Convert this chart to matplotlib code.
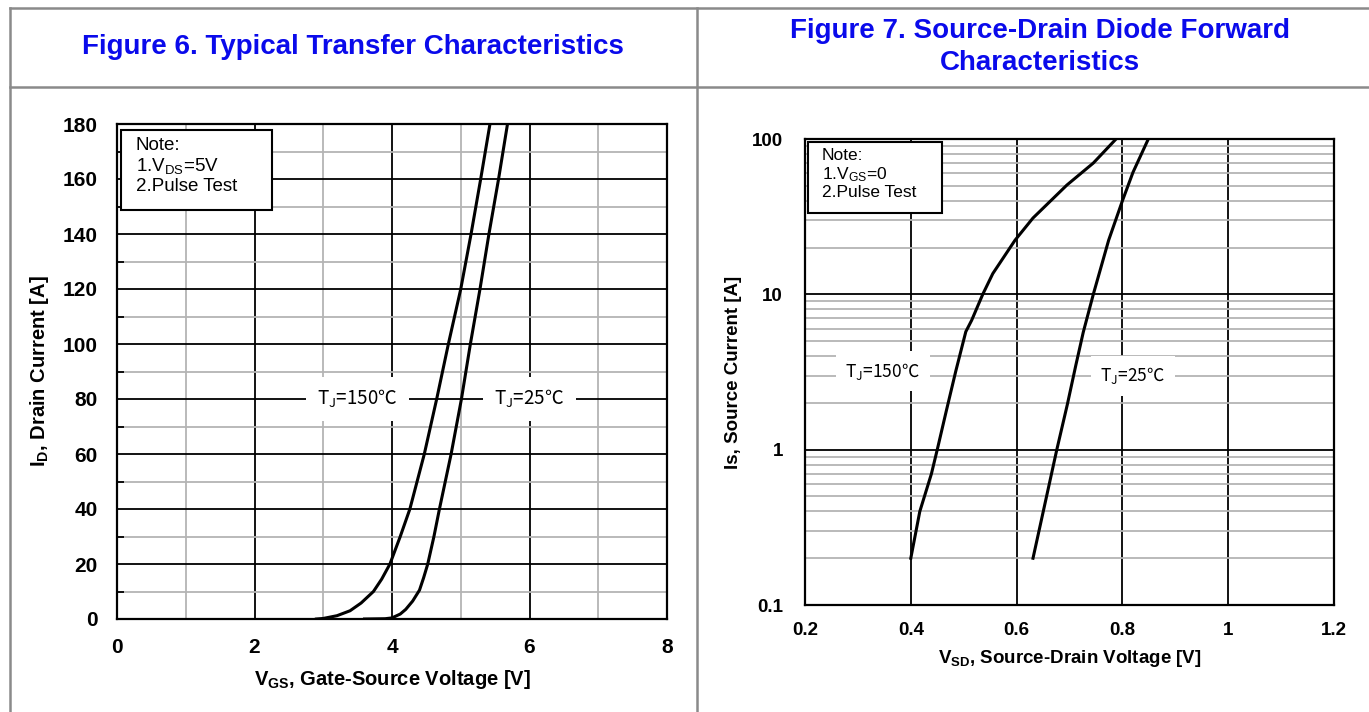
import matplotlib
matplotlib.use("Agg")
import matplotlib.pyplot as plt
from matplotlib.lines import Line2D
from matplotlib.patches import Rectangle
from matplotlib.ticker import MultipleLocator, LogLocator, NullFormatter, FixedLocator

plt.rcParams['font.family'] = ['Liberation Sans', 'DejaVu Sans']
plt.rcParams['mathtext.default'] = 'regular'

# Figure 6 - transfer characteristics
vgs_150 = [2.9, 3.0, 3.2, 3.39, 3.55, 3.73, 3.85, 3.97, 4.12, 4.26, 4.47, 4.65, 4.82, 5.0, 5.15, 5.29, 5.425]
id_150 = [0, 0.2, 1.2, 3, 5.8, 10, 14.5, 20, 30, 40, 60, 80, 100, 120, 140, 160, 180]
vgs_25 = [3.6, 3.9, 4.0, 4.12, 4.2, 4.3, 4.4, 4.46, 4.52, 4.61, 4.69, 4.86, 5.01, 5.14, 5.28, 5.41, 5.55, 5.68]
id_25 = [0, 0.1, 0.4, 1.8, 3.5, 6.5, 10.5, 15, 20, 30, 40, 60, 80, 100, 120, 140, 160, 180]

# Figure 7 - body diode forward characteristics
vsd_150 = [0.40, 0.417, 0.439, 0.45, 0.467, 0.485, 0.504, 0.515, 0.536, 0.555, 0.597, 0.631, 0.695, 0.745, 0.788]
is_150 = [0.2, 0.4, 0.7, 1.0, 1.77, 3.2, 5.75, 6.8, 10, 13.6, 22.3, 31, 50.5, 70, 100]
vsd_25 = [0.631, 0.676, 0.696, 0.712, 0.726, 0.745, 0.774, 0.80, 0.82, 0.849]
is_25 = [0.2, 1.0, 1.96, 3.5, 5.7, 10, 22.3, 40, 61, 100]

x6_ticks = [0, 2, 4, 6, 8]
y6_ticks = [0, 20, 40, 60, 80, 100, 120, 140, 160, 180]
x7_ticks = [0.2, 0.4, 0.6, 0.8, 1.0, 1.2]
x7_labels = ['0.2', '0.4', '0.6', '0.8', '1', '1.2']
y7_ticks = [0.1, 1, 10, 100]
y7_labels = ['0.1', '1', '10', '100']

W, H = 1369, 712
fig = plt.figure(figsize=(W / 100, H / 100), dpi=100)


def box(l, t, r, b):
    return [l / W, 1 - b / H, (r - l) / W, (b - t) / H]


# table-like frame around the two figures
frame_c = '#8a8a8a'
for xs, ys in [([10, W], [8, 8]), ([10, W], [86.5, 86.5]), ([10, 10], [8, H]), ([697, 697], [8, H])]:
    fig.add_artist(Line2D([x / W for x in xs], [1 - y / H for y in ys],
                          transform=fig.transFigure, color=frame_c, lw=1.8))

title_c = '#0a0aeb'
fig.text(353 / W, 1 - 47 / H, 'Figure 6. Typical Transfer Characteristics',
         ha='center', va='center', fontsize=20, fontweight='bold', color=title_c)
fig.text(1040 / W, 1 - 47 / H, 'Figure 7. Source-Drain Diode Forward\nCharacteristics',
         ha='center', va='center', multialignment='center', linespacing=1.35,
         fontsize=20, fontweight='bold', color=title_c)

ax1 = fig.add_axes(box(117, 124, 667, 619))
ax2 = fig.add_axes(box(805, 139, 1334, 605))

# ---- Figure 6 ----
ax1.plot(vgs_150, id_150, color='black', lw=2.2, zorder=3)
ax1.plot(vgs_25, id_25, color='black', lw=2.2, zorder=3)
ax1.set_xlim(0, 8)
ax1.set_ylim(0, 180)
ax1.set_xticks(x6_ticks)
ax1.set_yticks(y6_ticks)
ax1.xaxis.set_minor_locator(MultipleLocator(1))
ax1.yaxis.set_minor_locator(MultipleLocator(10))
ax1.grid(which='major', color='black', lw=1.3)
ax1.grid(which='minor', color='#b4b4b4', lw=1.3)
ax1.set_axisbelow(True)
ax1.tick_params(which='major', length=0, pad=14, labelsize=15)
ax1.tick_params(axis='x', which='minor', length=0)
ax1.tick_params(axis='y', which='minor', direction='in', length=5, width=1.3)

ax1.set_xlabel('$V_{GS}$, Gate-Source Voltage [V]', fontsize=14.5, fontweight='bold')
ax1.xaxis.set_label_coords(0.5, -0.123)
ax1.xaxis.label.set_va('center')
ax1.set_ylabel('$I_D$, Drain Current [A]', fontsize=14.5, fontweight='bold')
ax1.yaxis.set_label_coords(-0.14, 0.5)
ax1.yaxis.label.set_va('center')

ax1.add_patch(Rectangle((0.007, 0.826), 0.2745, 0.162, transform=ax1.transAxes,
                        fc='white', ec='black', lw=1.5, zorder=4))
ax1.text(0.0345, 0.974, 'Note:\n1.$V_{DS}$=5V\n2.Pulse Test', transform=ax1.transAxes,
         ha='left', va='top', fontsize=13.5, linespacing=1.15, zorder=5)

lab_kw = dict(ha='center', va='center', family=['Noto Sans CJK JP', 'DejaVu Sans'], zorder=4)
ax1.text(3.5, 80, 'T$_J$=150℃', fontsize=13.5,
         bbox=dict(boxstyle='square,pad=0.6', fc='white', ec='none'), **lab_kw)
ax1.text(6.0, 80, 'T$_J$=25℃', fontsize=13.5,
         bbox=dict(boxstyle='square,pad=0.6', fc='white', ec='none'), **lab_kw)

# ---- Figure 7 ----
ax2.plot(vsd_150, is_150, color='black', lw=2.2, zorder=3)
ax2.plot(vsd_25, is_25, color='black', lw=2.2, zorder=3)
ax2.set_yscale('log')
ax2.set_xlim(0.2, 1.2)
ax2.set_ylim(0.1, 100)
ax2.xaxis.set_major_locator(FixedLocator(x7_ticks))
ax2.set_xticklabels(x7_labels)
ax2.yaxis.set_major_locator(FixedLocator(y7_ticks))
ax2.set_yticklabels(y7_labels)
ax2.yaxis.set_minor_locator(LogLocator(base=10, subs=[2, 3, 4, 5, 6, 7, 8, 9]))
ax2.yaxis.set_minor_formatter(NullFormatter())
ax2.grid(which='major', color='black', lw=1.3)
ax2.grid(which='minor', axis='y', color='#b4b4b4', lw=1.3)
ax2.set_axisbelow(True)
ax2.tick_params(which='both', length=0)
ax2.tick_params(axis='y', which='major', pad=16, labelsize=13.5)
ax2.tick_params(axis='x', which='major', pad=12, labelsize=13.5)

ax2.set_xlabel('$V_{SD}$, Source-Drain Voltage [V]', fontsize=13.5, fontweight='bold')
ax2.xaxis.set_label_coords(0.501, -0.114)
ax2.xaxis.label.set_va('center')
ax2.set_ylabel('Is, Source Current [A]', fontsize=13.5, fontweight='bold')
ax2.yaxis.set_label_coords(-0.136, 0.5)
ax2.yaxis.label.set_va('center')

ax2.add_patch(Rectangle((0.0057, 0.841), 0.253, 0.1526, transform=ax2.transAxes,
                        fc='white', ec='black', lw=1.5, zorder=4))
ax2.text(0.032, 0.981, 'Note:\n1.$V_{GS}$=0\n2.Pulse Test', transform=ax2.transAxes,
         ha='left', va='top', fontsize=12.5, linespacing=1.15, zorder=5)

ax2.text(0.347, 3.2, 'T$_J$=150℃', fontsize=12.5,
         bbox=dict(boxstyle='square,pad=0.55', fc='white', ec='none'), **lab_kw)
ax2.text(0.82, 3.0, 'T$_J$=25℃', fontsize=12.5,
         bbox=dict(boxstyle='square,pad=0.55', fc='white', ec='none'), **lab_kw)

for ax in (ax1, ax2):
    for s in ax.spines.values():
        s.set_linewidth(1.6)
    for lbl in ax.get_xticklabels() + ax.get_yticklabels():
        lbl.set_fontweight('bold')

fig.savefig('out.png', dpi=100)
